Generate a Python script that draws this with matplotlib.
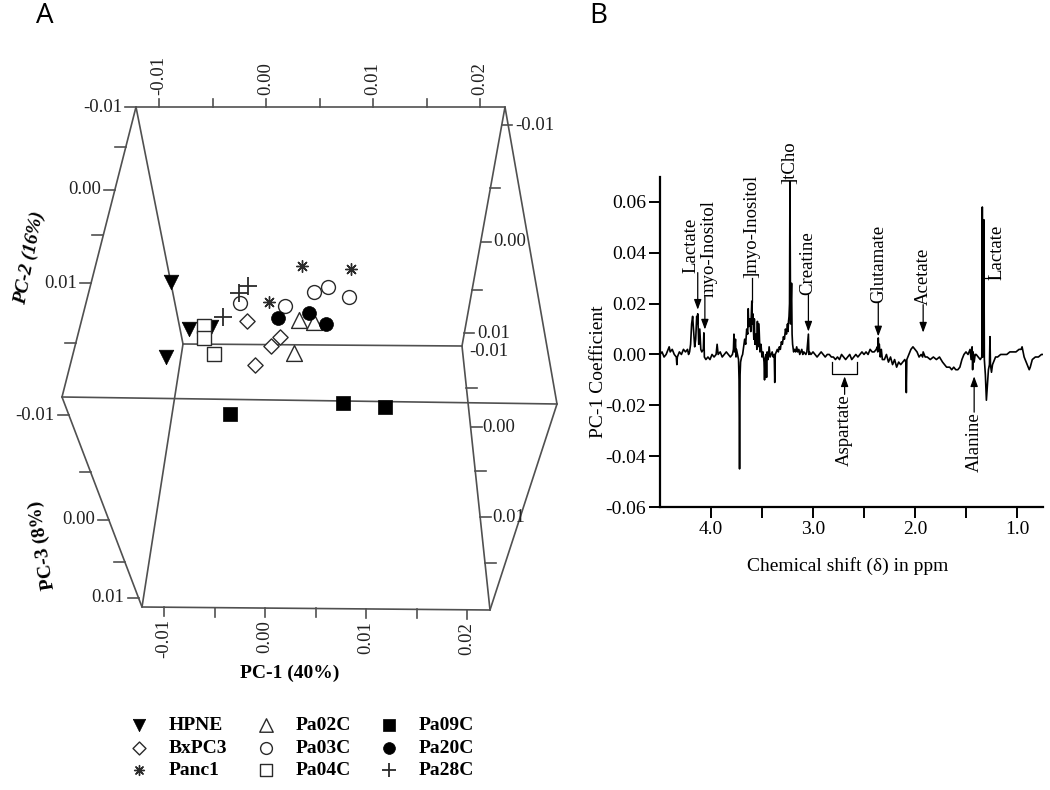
import matplotlib.pyplot as plt
from matplotlib.ticker import FixedLocator

plt.rcParams['font.family'] = ['Liberation Serif', 'DejaVu Serif']
plt.rcParams['axes.unicode_minus'] = False

# ---------------- Panel A: PCA scores (PC-1, PC-2 as seen in the 3D view) ----------------
hpne_pc1 = [-0.00888, -0.00720, -0.00514, -0.00935]
hpne_pc2 = [0.00989, 0.01495, 0.01473, 0.01796]
bxpc3_pc1 = [-0.00178, 0.00131, 0.00047, -0.00103]
bxpc3_pc2 = [0.01409, 0.01581, 0.01677, 0.01882]
panc1_pc1 = [0.00336, 0.00794, 0.00028]
panc1_pc2 = [0.00817, 0.00849, 0.01204]
pa02c_pc1 = [0.00308, 0.00449, 0.00262]
pa02c_pc2 = [0.01398, 0.01419, 0.01753]
pa03c_pc1 = [-0.00243, 0.00178, 0.00449, 0.00579, 0.00776]
pa03c_pc2 = [0.01215, 0.01247, 0.01097, 0.01043, 0.01151]
pa04c_pc1 = [-0.00579, -0.00579, -0.00486]
pa04c_pc2 = [0.01462, 0.01591, 0.01763]
pa09c_pc1 = [-0.00336, 0.00720, 0.01112]
pa09c_pc2 = [0.02409, 0.02290, 0.02333]
pa20c_pc1 = [0.00112, 0.00402, 0.00561]
pa20c_pc2 = [0.01376, 0.01323, 0.01441]
pa28c_pc1 = [-0.00252, -0.00168, -0.00402]
pa28c_pc2 = [0.01108, 0.01032, 0.01366]

# ---------------- Panel B: PC-1 loadings spectrum ----------------
ppm = [4.50, 4.48, 4.46, 4.44, 4.42, 4.41, 4.40, 4.38, 4.36, 4.34, 4.335, 4.33, 4.31, 4.29,
       4.27, 4.25, 4.23, 4.22, 4.21, 4.20, 4.19, 4.18, 4.17, 4.16, 4.15, 4.14, 4.135, 4.13,
       4.12, 4.11, 4.10, 4.09, 4.075, 4.07, 4.065, 4.05, 4.03, 4.01, 3.99, 3.97, 3.95, 3.94,
       3.93, 3.91, 3.89, 3.87, 3.85, 3.83, 3.81, 3.79, 3.78, 3.775, 3.77, 3.76, 3.755, 3.75,
       3.74, 3.73, 3.725, 3.72, 3.715, 3.71, 3.70, 3.69, 3.68, 3.67, 3.66, 3.65, 3.64, 3.635,
       3.63, 3.62, 3.61, 3.60, 3.595, 3.59, 3.58, 3.575, 3.57, 3.56, 3.55, 3.545, 3.54, 3.53,
       3.52, 3.51, 3.50, 3.49, 3.48, 3.475, 3.47, 3.46, 3.455, 3.45, 3.44, 3.43, 3.42, 3.41,
       3.40, 3.39, 3.38, 3.375, 3.37, 3.36, 3.35, 3.34, 3.33, 3.32, 3.31, 3.30, 3.29, 3.28,
       3.27, 3.26, 3.25, 3.245, 3.24, 3.235, 3.23, 3.226, 3.22, 3.21, 3.205, 3.20, 3.19, 3.18,
       3.17, 3.16, 3.15, 3.14, 3.13, 3.12, 3.11, 3.10, 3.09, 3.07, 3.06, 3.045, 3.04, 3.035,
       3.02, 3.00, 2.98, 2.96, 2.94, 2.92, 2.90, 2.88, 2.86, 2.84, 2.82, 2.80, 2.78, 2.76,
       2.74, 2.72, 2.70, 2.68, 2.66, 2.64, 2.62, 2.60, 2.58, 2.56, 2.54, 2.52, 2.50, 2.48,
       2.46, 2.44, 2.42, 2.40, 2.38, 2.37, 2.365, 2.36, 2.355, 2.35, 2.34, 2.33, 2.32, 2.30,
       2.28, 2.26, 2.24, 2.22, 2.20, 2.18, 2.16, 2.14, 2.12, 2.10, 2.09, 2.085, 2.08, 2.06,
       2.04, 2.02, 2.00, 1.98, 1.96, 1.94, 1.925, 1.92, 1.90, 1.88, 1.85, 1.82, 1.79, 1.76,
       1.73, 1.71, 1.69, 1.66, 1.64, 1.62, 1.60, 1.58, 1.56, 1.54, 1.52, 1.50, 1.48, 1.46,
       1.45, 1.44, 1.435, 1.43, 1.42, 1.41, 1.40, 1.38, 1.36, 1.345, 1.34, 1.335, 1.33, 1.325,
       1.32, 1.31, 1.30, 1.29, 1.28, 1.27, 1.265, 1.26, 1.25, 1.24, 1.23, 1.21, 1.19, 1.16,
       1.13, 1.10, 1.07, 1.04, 1.01, 0.98, 0.96, 0.95, 0.94, 0.93, 0.91, 0.90, 0.88, 0.87,
       0.85, 0.82, 0.79, 0.76, 0.745]
coef = [0.000, 0.001, -0.001, 0.000, 0.002, 0.003, 0.001, 0.002, 0.000, -0.001, -0.004, -0.001, 0.001, 0.000,
        0.002, 0.001, 0.002, 0.000, 0.001, 0.004, 0.012, 0.015, 0.009, 0.003, 0.006, 0.015, 0.012, 0.016,
        0.004, 0.010, 0.002, 0.001, 0.002, 0.0085, -0.001, -0.002, -0.001, -0.002, 0.000, -0.001, 0.000, 0.004,
        0.000, 0.001, -0.001, 0.000, 0.001, 0.000, -0.001, 0.000, 0.002, 0.008, 0.001, 0.006, -0.001, 0.002,
        0.000, -0.002, -0.010, -0.045, -0.008, -0.003, -0.001, 0.000, 0.003, 0.006, 0.004, 0.010, 0.008, 0.018,
        0.011, 0.014, 0.009, 0.021, 0.012, 0.016, 0.006, 0.014, 0.004, 0.008, 0.002, 0.013, 0.003, 0.012,
        0.001, 0.004, -0.001, 0.001, -0.003, -0.010, -0.002, 0.000, -0.009, 0.001, -0.002, 0.003, -0.001, 0.000,
        0.001, -0.001, 0.000, -0.011, 0.000, 0.001, 0.002, 0.001, 0.003, 0.002, 0.005, 0.004, 0.007, 0.006,
        0.010, 0.008, 0.012, 0.009, 0.013, 0.015, 0.020, 0.068, 0.012, 0.028, 0.008, 0.004, 0.001, 0.002,
        0.001, 0.003, 0.001, 0.002, 0.000, 0.001, 0.002, 0.000, 0.001, 0.000, 0.001, 0.008, 0.000, 0.001,
        0.000, 0.001, 0.000, -0.001, 0.000, 0.001, 0.000, -0.001, 0.000, 0.000, -0.001, -0.001, -0.002, -0.001,
        -0.002, 0.000, -0.001, -0.002, -0.001, 0.000, -0.002, -0.001, 0.000, -0.001, 0.000, 0.001, 0.000, 0.001,
        0.000, 0.002, 0.001, 0.001, 0.002, 0.003, 0.001, 0.0065, 0.002, 0.004, -0.001, 0.002, -0.002, -0.002,
        0.000, -0.003, -0.001, -0.004, -0.002, -0.005, -0.003, -0.004, -0.003, -0.002, -0.003, -0.015, -0.002, 0.000,
        0.002, 0.003, 0.002, 0.001, -0.001, 0.000, -0.001, 0.001, -0.001, -0.001, -0.002, -0.001, -0.002, -0.001,
        -0.003, -0.004, -0.005, -0.005, -0.006, -0.005, -0.006, -0.006, -0.005, -0.002, 0.000, 0.001, 0.000, 0.002,
        -0.002, 0.003, -0.006, 0.001, -0.003, 0.000, 0.000, -0.001, -0.002, -0.001, 0.058, -0.001, 0.000, 0.053,
        -0.002, -0.008, -0.018, -0.012, -0.006, -0.004, 0.007, -0.004, -0.007, -0.004, -0.003, -0.001, -0.001, 0.000,
        0.000, 0.000, 0.001, 0.001, 0.001, 0.002, 0.002, 0.003, 0.001, -0.001, -0.003, -0.004, -0.006, -0.005,
        -0.002, -0.001, -0.001, 0.000, 0.000]

fig = plt.figure(figsize=(10.5, 7.9), dpi=100)

# ===== Panel A =====
axA = fig.add_axes([0, 0, 560 / 1050, 1])


def P(x, y):
    # pixel position inside panel A -> data coordinates (PC-1, PC-2 screen scale)
    return (x - 266) / 10700, (y - 190) / 9300


axA.set_xlim(P(0, 0)[0], P(560, 0)[0])
axA.set_ylim(P(0, 790)[1], P(0, 0)[1])
axA.axis('off')

box_c = '#505050'
V = {'T1': (136, 107), 'T2': (505, 107), 'M1': (62, 397), 'M2': (557, 404),
     'I1': (183, 344), 'I2': (462, 346), 'B1': (142, 607), 'B2': (490, 610)}
edges = [('T1', 'T2'), ('T1', 'M1'), ('T1', 'I1'), ('T2', 'I2'), ('T2', 'M2'), ('I1', 'I2'),
         ('M1', 'M2'), ('M1', 'B1'), ('M2', 'B2'), ('I1', 'B1'), ('I2', 'B2'), ('B1', 'B2')]
for a, b in edges:
    pa, pb = P(*V[a]), P(*V[b])
    axA.plot([pa[0], pb[0]], [pa[1], pb[1]], color=box_c, lw=1.2, solid_capstyle='round')


def tick(x, y, dx, dy):
    p0, p1 = P(x, y), P(x + dx, y + dy)
    axA.plot([p0[0], p1[0]], [p0[1], p1[1]], color=box_c, lw=1.2)


def lab(x, y, s, **kw):
    px, py = P(x, y)
    axA.text(px, py, s, fontsize=13.5, color='#222222', **kw)


def on_edge(a, b, y):
    (x0, y0), (x1, y1) = V[a], V[b]
    return x0 + (x1 - x0) * (y - y0) / (y1 - y0)


pc1_ticks = [-0.01, -0.005, 0.0, 0.005, 0.01, 0.015, 0.02]
pc1_labels = {-0.01: '-0.01', 0.0: '0.00', 0.01: '0.01', 0.02: '0.02'}
# top PC-1 axis
for v in pc1_ticks:
    x = 266 + 10700 * v
    tick(x, 107, 0, -8)
    if v in pc1_labels:
        lab(x, 95, pc1_labels[v], rotation=90, ha='center', va='bottom')
# bottom PC-1 axis
for v in pc1_ticks:
    x = 265 + 10100 * v
    y = 607 + 3 * (x - 142) / 348
    tick(x, y, 0, 9)
    if v in pc1_labels:
        lab(x, y + 12, pc1_labels[v], rotation=90, ha='center', va='top')

# left PC-2 axis
for y, s in [(107, '-0.01'), (147, ''), (190, '0.00'), (235, ''), (283, '0.01'), (343, '')]:
    x = on_edge('T1', 'M1', y)
    tick(x, y, -11, 0)
    if s:
        lab(x - 14, y, s, ha='right', va='center')
# left PC-3 axis
for y, s in [(415, '-0.01'), (472, ''), (520, '0.00'), (562, ''), (598, '0.01')]:
    x = on_edge('M1', 'B1', y)
    tick(x, y, -11, 0)
    if s:
        lab(x - 14, y, s, ha='right', va='center')
# right PC-2 axis
for y, s in [(125, '-0.01'), (188, ''), (242, '0.00'), (290, ''), (333, '0.01')]:
    x = on_edge('T2', 'I2', y)
    tick(x, y, 10, 0)
    if s:
        lab(x + 13, y, s, ha='left', va='center')
# right PC-3 axis
for y, s in [(352, '-0.01'), (388, ''), (427, '0.00'), (471, ''), (517, '0.01'), (563, '')]:
    x = on_edge('I2', 'B2', y)
    if y != 352:
        tick(x, y, 11, 0)
        if s:
            lab(x + 12, y, s, ha='left', va='center')
    else:
        lab(x + 7, y, s, ha='left', va='center')

# axis titles
axA.text(*P(30, 258), 'PC-2 (16%)', rotation=79, ha='center', va='center',
         fontsize=14, fontweight='bold', fontstyle='italic')
axA.text(*P(42, 545), 'PC-3 (8%)', rotation=99, ha='center', va='center',
         fontsize=14, fontweight='bold')
axA.text(*P(290, 673), 'PC-1 (40%)', ha='center', va='center', fontsize=14, fontweight='bold')

# score points
ek = '#2a2a2a'
h1 = axA.scatter(hpne_pc1, hpne_pc2, marker='v', s=110, c='black', edgecolors='black', lw=0.5, zorder=3)
h2 = axA.scatter(bxpc3_pc1, bxpc3_pc2, marker='D', s=60, facecolors='white', edgecolors=ek, lw=1.0, zorder=3)
h3 = axA.scatter(panc1_pc1, panc1_pc2, marker=(8, 2, 0), s=70, c=ek, lw=1.0, zorder=3)
h4 = axA.scatter(pa02c_pc1, pa02c_pc2, marker='^', s=130, facecolors='white', edgecolors=ek, lw=1.0, zorder=3)
h5 = axA.scatter(pa03c_pc1, pa03c_pc2, marker='o', s=100, facecolors='white', edgecolors=ek, lw=1.0, zorder=3)
h6 = axA.scatter(pa04c_pc1, pa04c_pc2, marker='s', s=100, facecolors='white', edgecolors=ek, lw=1.0, zorder=3)
h7 = axA.scatter(pa09c_pc1, pa09c_pc2, marker='s', s=100, c='black', edgecolors='black', lw=0.5, zorder=3)
h8 = axA.scatter(pa20c_pc1, pa20c_pc2, marker='o', s=100, c='black', edgecolors='black', lw=0.5, zorder=3)
h9 = axA.scatter(pa28c_pc1, pa28c_pc2, marker='+', s=160, c=ek, lw=1.3, zorder=3)

groups = ['HPNE', 'BxPC3', 'Panc1', 'Pa02C', 'Pa03C', 'Pa04C', 'Pa09C', 'Pa20C', 'Pa28C']
fig.legend([h1, h2, h3, h4, h5, h6, h7, h8, h9], groups, ncol=3, frameon=False,
           loc='upper left', bbox_to_anchor=(120 / 1050, 1 - 707 / 790), borderpad=0,
           prop={'size': 14, 'weight': 'bold'}, handlelength=1.0, handletextpad=1.0,
           columnspacing=1.5, labelspacing=0.25, scatterpoints=1, markerscale=0.85)

# ===== Panel B =====
axB = fig.add_axes([660 / 1050, 1 - 507 / 790, 383 / 1050, 330 / 790])
axB.plot(ppm, coef, color='black', lw=1.2)
axB.set_xlim(4.5, 0.745)
axB.set_ylim(-0.06, 0.0698)
for s in ['top', 'right']:
    axB.spines[s].set_visible(False)
for s in ['left', 'bottom']:
    axB.spines[s].set_linewidth(1.6)
axB.yaxis.set_major_locator(FixedLocator([-0.06, -0.04, -0.02, 0.0, 0.02, 0.04, 0.06]))
axB.yaxis.set_major_formatter(plt.FuncFormatter(lambda v, p: '%.2f' % v if abs(v) > 1e-9 else '0.00'))
axB.xaxis.set_major_locator(FixedLocator([4.0, 3.0, 2.0, 1.0]))
axB.xaxis.set_minor_locator(FixedLocator([3.5, 2.5, 1.5]))
axB.xaxis.set_major_formatter(plt.FuncFormatter(lambda v, p: '%.1f' % v))
axB.tick_params(axis='both', which='both', direction='out', length=8, width=1.4, labelsize=14, pad=2)
axB.set_ylabel('PC-1 Coefficient', fontsize=14)
axB.yaxis.set_label_coords(-0.138, 0.41)
axB.set_xlabel('Chemical shift (δ) in ppm', fontsize=14)
axB.xaxis.set_label_coords(0.49, -0.152)

arrow = dict(arrowstyle='-|>,head_length=0.6,head_width=0.22', color='black', lw=0.9,
             shrinkA=0, shrinkB=0, mutation_scale=10)
tfs = 13.5
# metabolites above the trace: (label, arrow ppm, text ppm, text bottom, arrow tip)
above = [('Lactate', 4.13, 4.20, 0.0322, 0.0176),
         ('myo-Inositol', 4.06, 4.015, 0.0227, 0.0098),
         ('Creatine', 3.045, 3.05, 0.0235, 0.009),
         ('Glutamate', 2.36, 2.36, 0.0204, 0.0071),
         ('Acetate', 1.92, 1.92, 0.0196, 0.0086)]
for name, xa, xt, yt, tip in above:
    axB.text(xt, yt, name, rotation=90, ha='center', va='bottom', fontsize=tfs)
    axB.annotate('', xy=(xa, tip), xytext=(xa, yt), arrowprops=arrow)

axB.text(3.60, 0.0300, ']myo-Inositol', rotation=90, ha='center', va='bottom', fontsize=tfs)
axB.plot([3.60, 3.60], [0.0205, 0.0300], color='black', lw=0.9)
axB.text(3.226, 0.0672, ']tCho', rotation=90, ha='center', va='bottom', fontsize=tfs, clip_on=False)
axB.text(1.20, 0.0294, 'Lactate', rotation=90, ha='center', va='bottom', fontsize=tfs)
axB.plot([1.325, 1.17], [0.0300, 0.0300], color='black', lw=0.9)

# metabolites below the trace
axB.plot([2.81, 2.81, 2.57, 2.57], [-0.0031, -0.0078, -0.0078, -0.0031], color='black', lw=0.9)
axB.text(2.69, -0.0157, 'Aspartate', rotation=90, ha='center', va='top', fontsize=tfs)
axB.annotate('', xy=(2.69, -0.0086), xytext=(2.69, -0.0157), arrowprops=arrow)
axB.text(1.42, -0.0227, 'Alanine', rotation=90, ha='center', va='top', fontsize=tfs)
axB.annotate('', xy=(1.42, -0.0086), xytext=(1.42, -0.0227), arrowprops=arrow)

# panel letters
fig.text(45 / 1050, 1 - 16 / 790, 'A', fontsize=20, ha='center', va='center', family='Open Sans')
fig.text(598 / 1050, 1 - 16 / 790, 'B', fontsize=20, ha='center', va='center', family='Open Sans')

fig.savefig('out.png', dpi=100, facecolor='white')
